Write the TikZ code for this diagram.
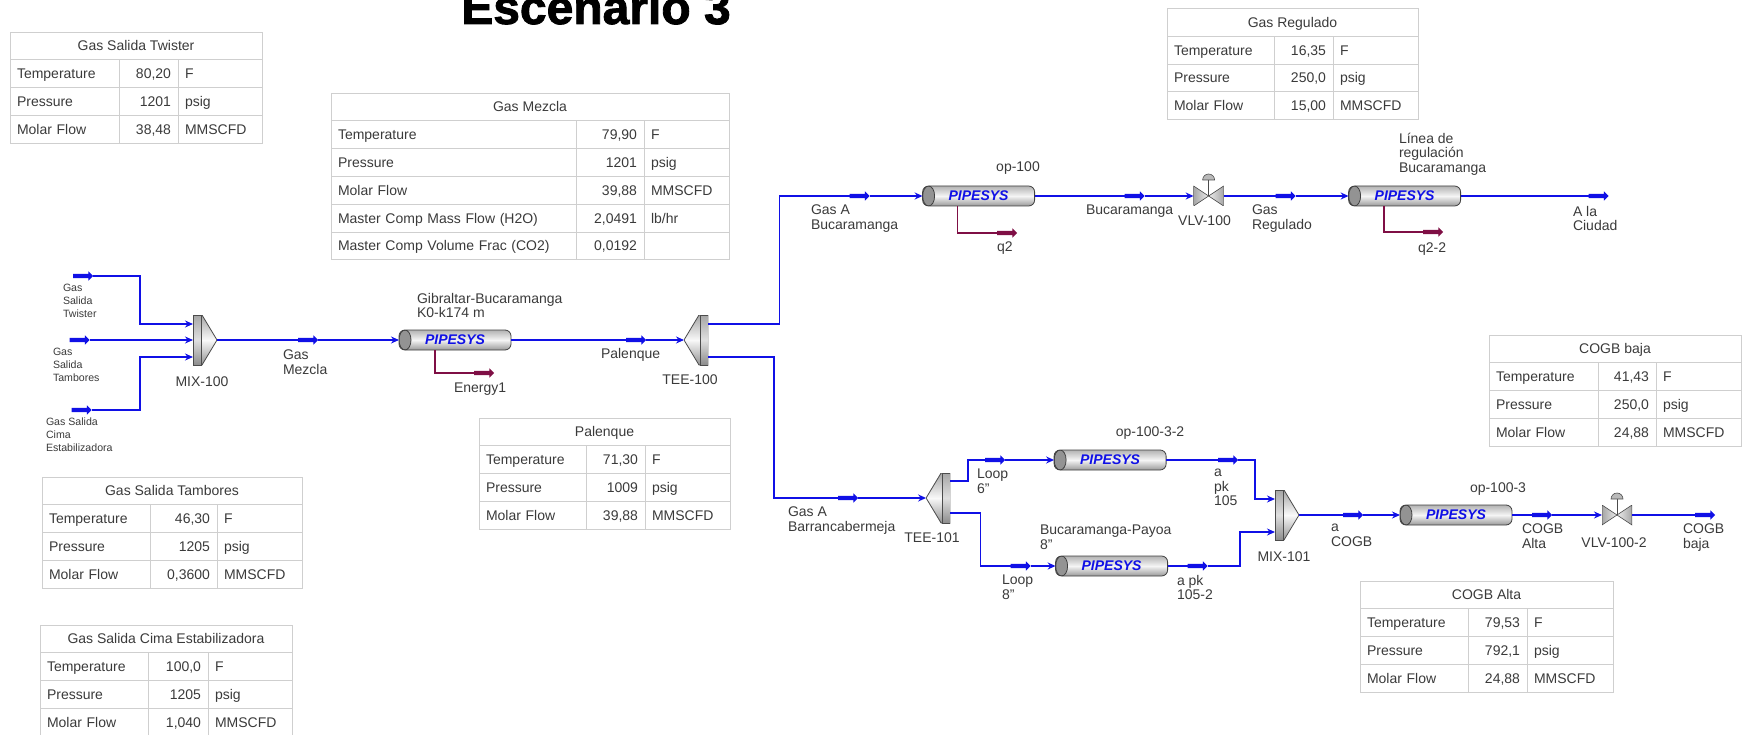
\documentclass[tikz,border=0pt]{standalone}
\usepackage{fontspec}
\setmainfont{Liberation Sans}
\newfontfamily\titlefont{Liberation Sans}[BoldFeatures={FakeBold=1.8}]
\usepackage{xcolor}
\usepackage{tikz}
\usetikzlibrary{arrows.meta, positioning, calc, shapes.arrows}
\definecolor{pipeblue}{HTML}{1010E6}
\definecolor{heatred}{HTML}{7F0F45}
\definecolor{gridgray}{HTML}{CFCFCF}
\definecolor{inkgray}{HTML}{3A3A3A}

% one row of a property table, hung below the row before it
\newcommand{\proprow}[8]{%
  \node[cell, align=left, text width=#3pt-14pt, anchor=north west] (#2a) at (#1.south west) {#6};
  \node[cell, align=right, text width=#4pt-14pt, right=0pt of #2a] (#2b) {#7};
  \node[cell, align=left, text width=#5pt-14pt, right=0pt of #2b] (#2c) {#8};
}
\newcommand{\streamtable}[9]{%
  \node[cell, minimum width=#3pt+#4pt+#5pt, anchor=north west] (#1) at #2 {#6};
  \proprow{#1}{#1t}{#3}{#4}{#5}{Temperature}{#7}{F}
  \proprow{#1ta}{#1p}{#3}{#4}{#5}{Pressure}{#8}{psig}
  \proprow{#1pa}{#1m}{#3}{#4}{#5}{Molar Flow}{#9}{MMSCFD}
}

\begin{document}
\begin{tikzpicture}[
  x=1pt, y=-1pt,
  cell/.style={draw=gridgray, line width=0.8pt, inner xsep=7pt, inner ysep=0pt, outer sep=0pt,
               minimum height=27.8pt, text height=11.5pt, text depth=1.5pt, text=inkgray,
               font=\fontsize{14}{16}\selectfont},
  stream/.style={single arrow, fill=pipeblue, inner xsep=0pt, inner ysep=2pt, outer sep=0pt,
                 minimum height=20pt, minimum width=9pt, single arrow head extend=2.5pt},
  qstream/.style={stream, fill=heatred},
  pipe/.style={draw=black!75, line width=0.8pt, rounded corners=6pt, outer sep=0pt, inner sep=0pt,
               minimum width=112pt, minimum height=20pt, text=pipeblue,
               top color=gray!60, bottom color=gray!80, middle color=gray!8,
               font=\fontsize{14}{16}\selectfont\bfseries\itshape,
               path picture={\draw[black!75, fill=gray!85, line width=0.8pt]
                 ([xshift=6pt]path picture bounding box.west) ellipse [x radius=6pt, y radius=10pt];}},
  splitter/.style={minimum width=24pt, minimum height=50pt, inner sep=0pt, outer sep=0pt,
               path picture={\begin{scope}[shift={(path picture bounding box.center)}, x=#1pt]
                 \draw[black!70, top color=gray!70, bottom color=gray!85, middle color=gray!5, line width=0.8pt]
                   (-12,-25) -- (-3,-25) -- (12,0) -- (-3,25) -- (-12,25) -- cycle;
                 \draw[black!70, top color=gray!70, bottom color=gray!90, middle color=gray!25, line width=0.8pt]
                   (-12,-25) rectangle (-4,25);
               \end{scope}}},
  valve/.style={minimum width=30pt, minimum height=20pt, inner sep=0pt, outer sep=0pt,
               path picture={\begin{scope}[shift={(path picture bounding box.center)}]
                 \draw[black!70, left color=gray!70, right color=gray!15, line width=0.6pt]
                   (-15,-10) -- (0,0) -- (-15,10) -- cycle;
                 \draw[black!70, left color=gray!15, right color=gray!70, line width=0.6pt]
                   (15,-10) -- (0,0) -- (15,10) -- cycle;
               \end{scope}}},
  flow/.style={draw=pipeblue, line width=1.6pt},
  inflow/.style={flow, -{Stealth[length=8pt, width=7pt]}},
  heat/.style={draw=heatred, line width=1.5pt},
  tag/.style={anchor=north west, inner sep=0pt, outer sep=0pt, align=left, text=inkgray,
              font=\fontsize{14}{14.5}\selectfont, execute at begin node={\rule{0pt}{10pt}}},
  ctag/.style={tag, anchor=north, align=center},
  smalltag/.style={tag, font=\fontsize{10.6}{13}\selectfont, execute at begin node={\rule{0pt}{8pt}}}
]
  \useasboundingbox (0,0) rectangle (1750,735);

  \node[font=\fontsize{48}{50}\selectfont\titlefont\bfseries, anchor=base] (title) at (596,24) {Escenario 3};

  % Property tables
  \streamtable{twister}{(10,32)}{109}{59}{84}{Gas Salida Twister}{80,20}{1201}{38,48}
  \streamtable{mezcla}{(331,93)}{245.5}{67.5}{85}{Gas Mezcla}{79,90}{1201}{39,88}
  \proprow{mezclama}{mezclaw}{245.5}{67.5}{85}{Master Comp Mass Flow (H2O)}{2,0491}{lb/hr}
  \proprow{mezclawa}{mezclac}{245.5}{67.5}{85}{Master Comp Volume Frac (CO2)}{0,0192}{}
  \streamtable{regulado}{(1167,8.5)}{107}{59}{85}{Gas Regulado}{16,35}{250,0}{15,00}
  \streamtable{tambores}{(42,477)}{108}{67}{85}{Gas Salida Tambores}{46,30}{1205}{0,3600}
  \streamtable{cima}{(40,625)}{108}{60}{84}{Gas Salida Cima Estabilizadora}{100,0}{1205}{1,040}
  \streamtable{palenque}{(479,418)}{107}{59}{85}{Palenque}{71,30}{1009}{39,88}
  \streamtable{baja}{(1489,335)}{109}{58}{85}{COGB baja}{41,43}{250,0}{24,88}
  \streamtable{alta}{(1360,581)}{108}{59}{86}{COGB Alta}{79,53}{792,1}{24,88}

  % Feed and main line
  \node[stream] (feedtw) at (82,276) {};
  \node[stream] (feedta) at (78.5,340) {};
  \node[stream] (feedci) at (80.5,410) {};
  \node[splitter=1] (mix100) at (205,340) {};
  \node[stream, right=81pt of mix100] (gasmez) {};
  \node[pipe, right=81pt of gasmez] (gibraltar) {PIPESYS};
  \node[qstream] (energy) at (483,373) {};
  \node[stream, right=115pt of gibraltar] (palen) {};
  \node[splitter=-1, right=38pt of palen] (tee100) {};

  % Upper line
  \node[stream] (gasabuc) at (858.5,196) {};
  \node[pipe, right=53pt of gasabuc] (op100) {PIPESYS};
  \node[qstream] (qtwo) at (1006,233) {};
  \node[stream, right=90pt of op100] (bucar) {};
  \node[valve, right=49pt of bucar] (vlv100) {};
  \node[stream, right=52pt of vlv100] (gasreg) {};
  \node[pipe, right=53pt of gasreg] (linea) {PIPESYS};
  \node[qstream] (qtwotwo) at (1432,232) {};
  \node[stream, right=128pt of linea] (ciudad) {};

  % Lower line
  \node[stream] (gasabar) at (847,498) {};
  \node[splitter=-1, right=68pt of gasabar] (tee101) {};
  \node[stream] (loopsix) at (994,460) {};
  \node[pipe, right=49pt of loopsix] (op1002) {PIPESYS};
  \node[stream, right=52pt of op1002] (pkone) {};
  \node[stream] (loopeight) at (1019.5,566) {};
  \node[pipe, right=25pt of loopeight] (payoa) {PIPESYS};
  \node[stream, right=20pt of payoa] (pktwo) {};
  \node[splitter=1] (mix101) at (1287,515) {};
  \node[stream, right=44pt of mix101] (acogb) {};
  \node[pipe, right=37pt of acogb] (op1003) {PIPESYS};
  \node[stream, right=20pt of op1003] (cogbalta) {};
  \node[valve, right=50pt of cogbalta] (vlv1002) {};
  \node[stream, right=63pt of vlv1002] (cogbbaja) {};

  % valve actuators
  \foreach \v in {vlv100, vlv1002} {
    \draw[black!70, line width=1pt] (\v.center) -- ++(0,-17);
    \draw[black!70, fill=gray!55, line width=0.6pt] ([xshift=-6pt, yshift=16pt]\v.center)
      arc[start angle=180, end angle=0, radius=6pt] -- cycle;
  }

  % unit ports
  \coordinate (mixa) at ([yshift=16pt]mix100.west);
  \coordinate (mixb) at ([yshift=-17pt]mix100.west);
  \coordinate (teea) at ([yshift=16pt]tee100.east);
  \coordinate (teeb) at ([yshift=-17pt]tee100.east);
  \coordinate (teec) at ([yshift=17pt]tee101.east);
  \coordinate (teed) at ([yshift=-15pt]tee101.east);
  \coordinate (mixc) at ([yshift=16pt]mix101.west);
  \coordinate (mixd) at ([yshift=-17pt]mix101.west);

  \draw[inflow] (feedtw.east) -| ([xshift=-53pt]mixa) -- (mixa);
  \draw[inflow] (feedta.east) -- (mix100.west);
  \draw[inflow] (feedci.east) -| ([xshift=-53pt]mixb) -- (mixb);
  \draw[flow] (mix100.east) -- (gasmez.west);
  \draw[inflow] (gasmez.east) -- (gibraltar.west);
  \draw[flow] (gibraltar.east) -- (palen.west);
  \draw[inflow] (palen.east) -- (tee100.west);
  \draw[heat] ([xshift=-20pt]gibraltar.south) |- (energy.west);

  \draw[flow] (teea) -| ([xshift=-70pt]gasabuc.west) -- (gasabuc.west);
  \draw[inflow] (gasabuc.east) -- (op100.west);
  \draw[heat] ([xshift=-21pt]op100.south) |- (qtwo.west);
  \draw[flow] (op100.east) -- (bucar.west);
  \draw[inflow] (bucar.east) -- (vlv100.west);
  \draw[flow] (vlv100.east) -- (gasreg.west);
  \draw[inflow] (gasreg.east) -- (linea.west);
  \draw[heat] ([xshift=-20.5pt]linea.south) |- (qtwotwo.west);
  \draw[flow] (linea.east) -- (ciudad.west);

  \draw[flow] (teeb) -| ([xshift=-64pt]gasabar.west) -- (gasabar.west);
  \draw[inflow] (gasabar.east) -- (tee101.west);
  \draw[flow] (teec) -| ([xshift=-17pt]loopsix.west) -- (loopsix.west);
  \draw[inflow] (loopsix.east) -- (op1002.west);
  \draw[flow] (op1002.east) -- (pkone.west);
  \draw[flow] (teed) -| ([xshift=-30pt]loopeight.west) -- (loopeight.west);
  \draw[inflow] (loopeight.east) -- (payoa.west);
  \draw[flow] (payoa.east) -- (pktwo.west);
  \draw[inflow] (pkone.east) -| ([xshift=-20pt]mixc) -- (mixc);
  \draw[inflow] (pktwo.east) -| ([xshift=-35pt]mixd) -- (mixd);
  \draw[flow] (mix101.east) -- (acogb.west);
  \draw[inflow] (acogb.east) -- (op1003.west);
  \draw[flow] (op1003.east) -- (cogbalta.west);
  \draw[inflow] (cogbalta.east) -- (vlv1002.west);
  \draw[flow] (vlv1002.east) -- (cogbbaja.west);

  % Labels
  \node[smalltag] (lfeedtw) at (63,284) {Gas\\Salida\\Twister};
  \node[smalltag] (lfeedta) at (53,348) {Gas\\Salida\\Tambores};
  \node[smalltag] (lfeedci) at (46,418) {Gas Salida\\Cima\\Estabilizadora};
  \node[ctag] (lmix100) at (202,376) {MIX-100};
  \node[tag] (lgasmez) at (283,350) {Gas\\Mezcla};
  \node[tag] (lgibr) at (417,293) {Gibraltar-Bucaramanga\\K0-k174 m};
  \node[tag] (lenergy) at (454,382) {Energy1};
  \node[tag] (lpalen) at (601,348) {Palenque};
  \node[ctag] (ltee100) at (690,374) {TEE-100};
  \node[tag] (lgasabuc) at (811,205) {Gas A\\Bucaramanga};
  \node[ctag] (lop100) at (1018,162) {op-100};
  \node[tag] (lqtwo) at (997,242) {q2};
  \node[tag] (lbucar) at (1086,205) {Bucaramanga};
  \node[ctag] (lvlv100) at (1204.5,216) {VLV-100};
  \node[tag] (lgasreg) at (1252,205) {Gas\\Regulado};
  \node[tag] (llinea) at (1399,133) {Línea de\\regulación\\Bucaramanga};
  \node[tag] (lqtwotwo) at (1418,243) {q2-2};
  \node[tag] (lciudad) at (1573,206) {A la\\Ciudad};
  \node[tag] (lgasabar) at (788,507) {Gas A\\Barrancabermeja};
  \node[ctag] (ltee101) at (932,532) {TEE-101};
  \node[tag] (lloopsix) at (977,469) {Loop\\6"};
  \node[tag] (lloopeight) at (1002,575) {Loop\\8"};
  \node[ctag] (lop1002) at (1150,426) {op-100-3-2};
  \node[tag] (lpayoa) at (1040,525) {Bucaramanga-Payoa\\8"};
  \node[tag] (lpkone) at (1214,469) {a\\pk\\105};
  \node[tag] (lpktwo) at (1177,575) {a pk\\105-2};
  \node[ctag] (lmix101) at (1284,551) {MIX-101};
  \node[tag] (lacogb) at (1331,524) {a\\COGB};
  \node[ctag] (lop1003) at (1498,482) {op-100-3};
  \node[tag] (lalta) at (1522,524) {COGB\\Alta};
  \node[ctag] (lvlv1002) at (1614,537) {VLV-100-2};
  \node[tag] (lbaja) at (1683,524) {COGB\\baja};
\end{tikzpicture}
\end{document}
